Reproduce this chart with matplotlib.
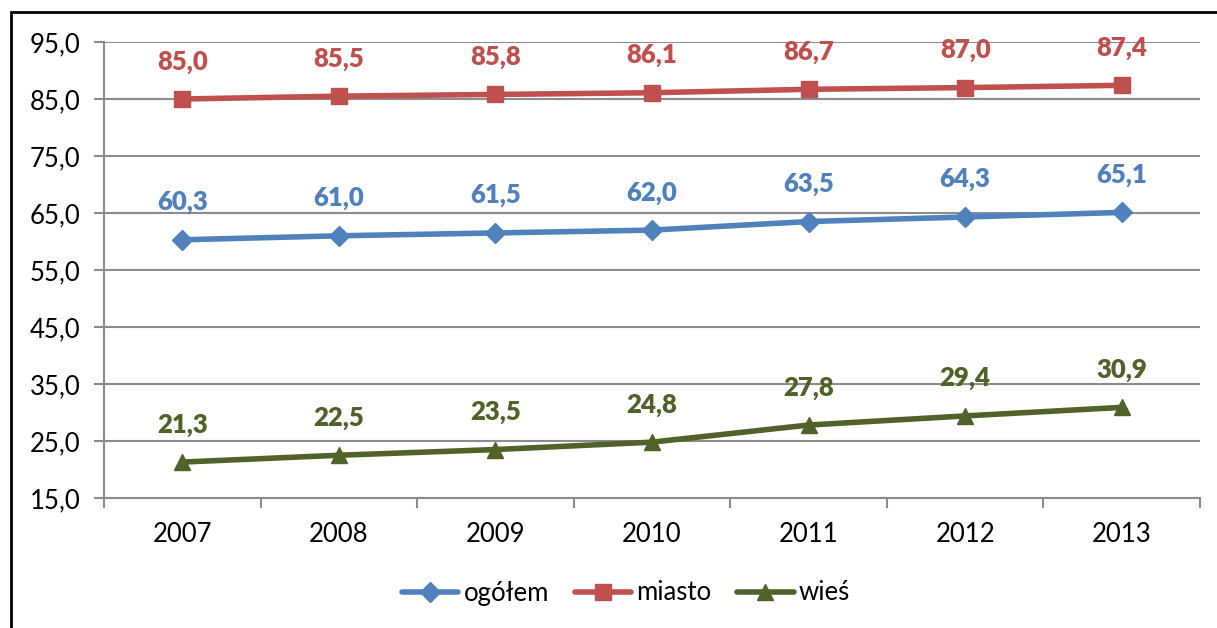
import matplotlib
matplotlib.use("Agg")
import matplotlib.pyplot as plt
from matplotlib.patches import Rectangle

years = ["2007", "2008", "2009", "2010", "2011", "2012", "2013"]
ogolem = [60.3, 61.0, 61.5, 62.0, 63.5, 64.3, 65.1]
miasto = [85.0, 85.5, 85.8, 86.1, 86.7, 87.0, 87.4]
wies = [21.3, 22.5, 23.5, 24.8, 27.8, 29.4, 30.9]
series_names = ["ogółem", "miasto", "wieś"]
yticks = [15, 25, 35, 45, 55, 65, 75, 85, 95]

plt.rcParams['font.family'] = ['Lato', 'DejaVu Sans']

W, H = 1217, 628
fig = plt.figure(figsize=(W / 100, H / 100), dpi=100)
ax = fig.add_axes([104 / W, 1 - 498 / H, (1200 - 104) / W, (498 - 42) / H])

colors = ["#4F81BD", "#C0504D", "#4F6228"]
markers = ["D", "s", "^"]
msizes = [10, 12, 12]
x = list(range(len(years)))
data = [ogolem, miasto, wies]
for vals, c, m, ms, name in zip(data, colors, markers, msizes, series_names):
    ax.plot(x, vals, color=c, lw=4, marker=m, markersize=ms, label=name,
            solid_capstyle='round')
    for xi, v in zip(x, vals):
        ax.annotate(f"{v:.1f}".replace(".", ","), (xi, v), xytext=(0, 27),
                    textcoords='offset points', ha='center', va='center',
                    color=c, fontsize=18.5, fontweight='heavy')

ax.set_xlim(-0.5, len(years) - 0.5)
ax.set_ylim(15, 95)
ax.set_yticks(yticks)
ax.set_yticklabels([f"{t:.1f}".replace(".", ",") for t in yticks], fontsize=18.5)
ax.yaxis.grid(True, color="#8C8C8C", lw=1.5)
ax.set_axisbelow(True)
ax.set_xticks(x)
ax.set_xticklabels(years, fontsize=18.5)
ax.tick_params(axis='x', length=0, pad=17)
ax.set_xticks([i - 0.5 for i in range(len(years) + 1)], minor=True)
ax.tick_params(axis='x', which='minor', length=7, width=1.5, color="#8C8C8C", direction='out')
ax.tick_params(axis='y', length=7, width=1.5, color="#8C8C8C", pad=10)
for s in ['top', 'right']:
    ax.spines[s].set_visible(False)
for s in ['left', 'bottom']:
    ax.spines[s].set_color("#8C8C8C")
    ax.spines[s].set_linewidth(1.5)

leg = fig.legend(loc='center', bbox_to_anchor=(626 / W, 1 - 593 / H), ncol=3,
                 frameon=False, fontsize=18.5, handlelength=2.2, columnspacing=1.0,
                 handletextpad=0.2)

fig.patches.append(Rectangle((11 / W, -0.1), 1.2, 1 - 12 / H + 0.1,
                             transform=fig.transFigure, fill=False,
                             edgecolor='black', lw=2))

fig.savefig("out.png", dpi=100)
